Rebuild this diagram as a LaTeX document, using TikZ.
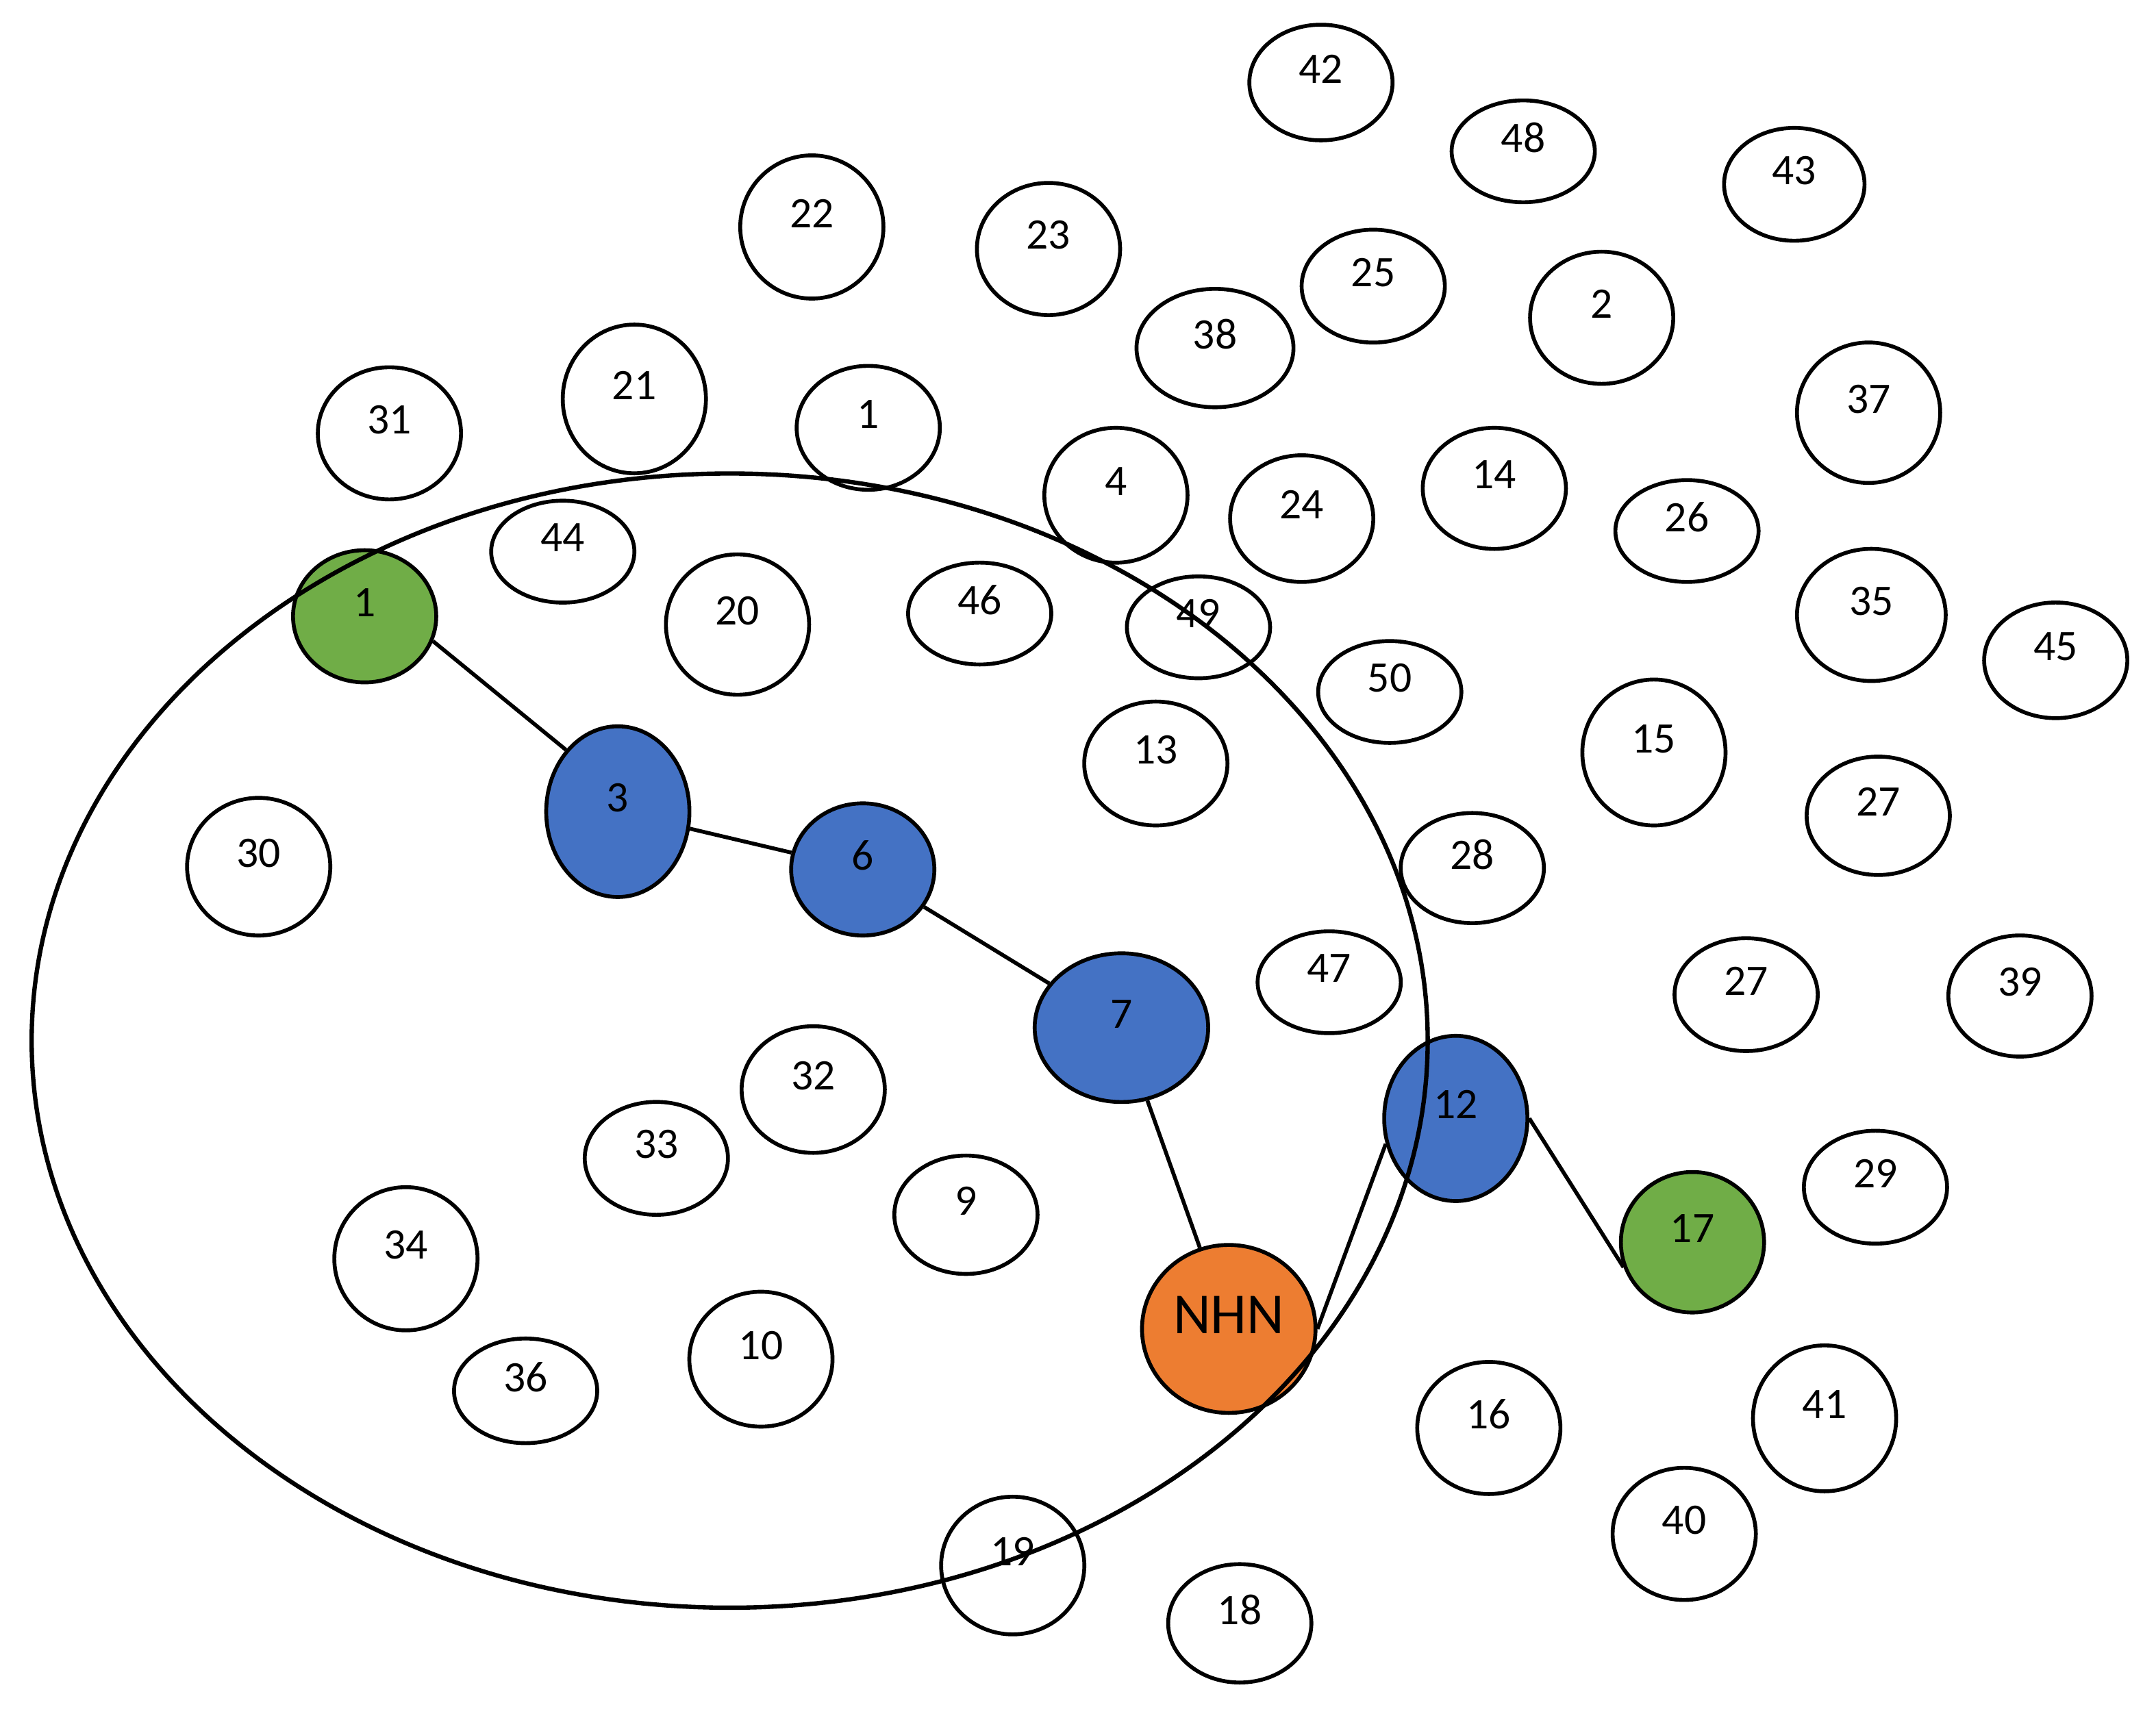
\documentclass[tikz,border=0pt]{standalone}
\usepackage{fontspec}
\setmainfont{Carlito}
\usetikzlibrary{shapes.geometric}
\definecolor{gr}{HTML}{70AD47}
\definecolor{bl}{HTML}{4472C4}
\definecolor{orx}{HTML}{ED7D31}
\tikzset{
  nd/.style={ellipse,draw=black,line width=0.8pt,inner sep=0pt},
  lb/.style={font=\fontsize{9}{10}\selectfont},
  edge/.style={line width=0.8pt}
}
% \nd{name}{x}{y}{rx}{ry}{text}{fill}
\newcommand{\ndx}[7]{%
  \node[nd,fill=#7,minimum width=#4*0.02cm,minimum height=#5*0.02cm] (#1) at (#2*0.01,-#3*0.01) {};
  \node[lb] (#1t) at ([yshift=0.1cm]#1.center) {#6};}
\begin{document}
\begin{tikzpicture}
\useasboundingbox (0,0) rectangle (15.66,-12.48);
\ndx{n42}{960}{60}{52}{42}{42}{white}
\ndx{n48}{1107}{110}{52}{37}{48}{white}
\ndx{n43}{1304}{134}{51}{41}{43}{white}
\ndx{n22}{590}{165}{52}{52}{22}{white}
\ndx{n23}{762}{181}{52}{48}{23}{white}
\ndx{n25}{998}{208}{52}{41}{25}{white}
\ndx{n2}{1164}{231}{52}{48}{2}{white}
\ndx{n38}{883}{253}{57}{43}{38}{white}
\ndx{n37}{1358}{300}{52}{51}{37}{white}
\ndx{n31}{283}{315}{52}{48}{31}{white}
\ndx{n21}{461}{290}{52}{54}{21}{white}
\ndx{n1b}{631}{311}{52}{45}{1}{white}
\ndx{n4}{811}{360}{52}{49}{4}{white}
\ndx{n24}{946}{377}{52}{46}{24}{white}
\ndx{n14}{1086}{355}{52}{44}{14}{white}
\ndx{n26}{1226}{386}{52}{37}{26}{white}
\ndx{n44}{409}{401}{52}{37}{44}{white}
\ndx{n20}{536}{454}{52}{51}{20}{white}
\ndx{n46}{712}{446}{52}{37}{46}{white}
\ndx{n49}{871}{456}{52}{37}{49}{white}
\ndx{n35}{1360}{447}{54}{48}{35}{white}
\ndx{n45}{1494}{480}{52}{42}{45}{white}
\ndx{n50}{1010}{503}{52}{37}{50}{white}
\ndx{n13}{840}{555}{52}{45}{13}{white}
\ndx{n15}{1202}{547}{52}{53}{15}{white}
\ndx{n27a}{1365}{593}{52}{43}{27}{white}
\ndx{n30}{188}{630}{52}{50}{30}{white}
\ndx{n28}{1070}{631}{52}{40}{28}{white}
\ndx{n47}{966}{714}{52}{37}{47}{white}
\ndx{n27b}{1269}{723}{52}{41}{27}{white}
\ndx{n39}{1468}{724}{52}{44}{39}{white}
\ndx{n32}{591}{792}{52}{46}{32}{white}
\ndx{n33}{477}{842}{52}{41}{33}{white}
\ndx{n9}{702}{883}{52}{43}{9}{white}
\ndx{n29}{1363}{863}{52}{41}{29}{white}
\ndx{n34}{295}{915}{52}{52}{34}{white}
\ndx{n36}{382}{1011}{52}{38}{36}{white}
\ndx{n10}{553}{988}{52}{49}{10}{white}
\ndx{n16}{1082}{1038}{52}{48}{16}{white}
\ndx{n41}{1326}{1031}{52}{53}{41}{white}
\ndx{n40}{1224}{1115}{52}{48}{40}{white}
\ndx{n19}{736}{1138}{52}{50}{19}{white}
\ndx{n18}{901}{1180}{52}{43}{18}{white}
\ndx{g1}{265}{448}{52}{48}{1}{gr}
\ndx{b3}{449}{590}{52}{62}{3}{bl}
\ndx{b6}{627}{632}{52}{48}{6}{bl}
\ndx{b7}{815}{747}{63}{54}{7}{bl}
\ndx{nhn}{893}{966}{63}{61}{\fontsize{12}{13}\selectfont NHN}{orx}
\ndx{b12}{1058}{813}{52}{60}{12}{bl}
\ndx{g17}{1230}{903}{52}{51}{17}{gr}
\draw[edge] (g1.-20) -- (b3.130);
\draw[edge] (b3) -- (b6);
\draw[edge] (b6) -- (b7);
\draw[edge] (b7) -- (nhn);
\draw[edge] (nhn.east) -- (b12.200);
\draw[edge] (b12.east) -- (g17.200);
\node[ellipse,draw=black,line width=0.9pt,minimum width=10.14cm,minimum height=8.24cm,inner sep=0pt] (big) at (5.30,-7.56) {};
\end{tikzpicture}
\end{document}
